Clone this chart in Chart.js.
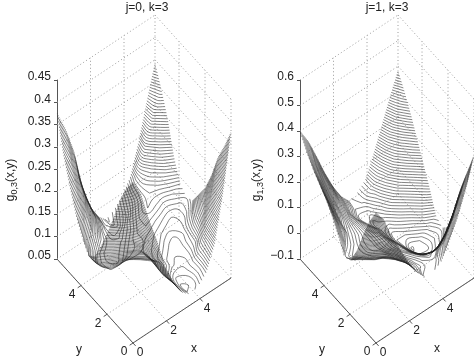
<!DOCTYPE html>
<html><head><meta charset="utf-8">
<style>html,body{margin:0;padding:0;background:#fff}</style>
<script src="https://cdn.jsdelivr.net/npm/chart.js@4"></script></head>
<body><div style="position:absolute;left:0;top:0;width:237px;height:359px"><canvas id="c0"></canvas></div>
<div style="position:absolute;left:237px;top:0;width:237px;height:359px"><canvas id="c1"></canvas></div>
<script>
const xTicks=[0,2,4];
const yTicks=[0,2,4];
const gridStep=0.4875;
const zTicks03=[0.05,0.1,0.15,0.2,0.25,0.3,0.35,0.4,0.45];
const zTicks13=[-0.1,0,0.1,0.2,0.3,0.4,0.5,0.6];
const g03=[
[.41,.37,.30,.24,.17,.125,.09,.075,.08,.10,.15,.25,.376],
[.38,.34,.28,.22,.16,.12,.09,.07,.075,.095,.14,.23,.33],
[.34,.30,.25,.20,.15,.115,.09,.075,.08,.095,.13,.20,.29],
[.285,.25,.21,.175,.15,.125,.105,.09,.085,.09,.11,.165,.235],
[.235,.20,.17,.145,.125,.115,.105,.095,.09,.09,.105,.145,.19],
[.19,.155,.13,.12,.115,.115,.11,.105,.095,.09,.10,.125,.16],
[.15,.115,.095,.095,.105,.11,.115,.11,.105,.10,.10,.11,.13],
[.135,.105,.095,.09,.095,.105,.115,.12,.115,.11,.105,.11,.12],
[.16,.125,.10,.09,.09,.095,.105,.12,.13,.125,.12,.125,.135],
[.195,.16,.13,.105,.09,.085,.095,.11,.125,.135,.14,.155,.18],
[.245,.21,.165,.125,.095,.08,.08,.095,.115,.14,.16,.20,.25],
[.30,.265,.215,.155,.11,.08,.07,.085,.105,.14,.20,.26,.30],
[.376,.33,.27,.18,.12,.085,.065,.075,.095,.125,.19,.27,.345]];
const g13=[
[.41,.36,.27,.20,.13,.07,.03,.03,.05,.11,.18,.27,.38],
[.35,.30,.22,.16,.11,.07,.045,.03,.03,.07,.13,.21,.29],
[.27,.22,.16,.12,.085,.06,.04,.025,.015,.025,.06,.12,.20],
[.18,.14,.10,.085,.07,.05,.03,.015,-.005,-.02,-.02,.02,.09],
[.115,.095,.08,.07,.06,.04,.02,0,-.03,-.055,-.065,-.05,-.01],
[.10,.08,.075,.06,.05,.03,.01,-.01,-.045,-.08,-.08,-.06,-.04],
[.16,.10,.08,.06,.05,.03,.01,-.02,-.055,-.085,-.075,-.05,-.02],
[.21,.14,.09,.07,.05,.03,.005,-.03,-.06,-.06,-.035,.01,.06],
[.25,.17,.105,.075,.05,.025,0,-.03,-.05,-.02,.02,.07,.13],
[.28,.20,.13,.085,.05,.02,-.01,-.035,-.015,.03,.08,.14,.20],
[.31,.24,.165,.10,.06,.015,-.02,-.02,.015,.07,.14,.20,.27],
[.35,.285,.21,.14,.075,.03,-.005,.005,.04,.10,.18,.26,.33],
[.40,.34,.26,.175,.10,.04,0,.01,.04,.12,.21,.30,.385]];

const FONT='"Liberation Sans", Arial, sans-serif';
const XMAX=gridStep*12, YMAX=gridStep*12;

function trace(grid,L){
  const n=grid.length, segs=[];
  for(let j=0;j<n-1;j++)for(let i=0;i<n-1;i++){
    const c=[[i,j],[i+1,j],[i+1,j+1],[i,j+1]];
    const v=c.map(p=>grid[p[1]][p[0]]);
    const cross=[];
    for(let e=0;e<4;e++){
      const a=v[e],b=v[(e+1)%4];
      if((a<L)!==(b<L)){
        const t=(L-a)/(b-a),p=c[e],q=c[(e+1)%4];
        const key=Math.min(p[0],q[0])+'_'+Math.min(p[1],q[1])+'_'+(p[0]===q[0]?'v':'h');
        cross.push({key,gx:p[0]+t*(q[0]-p[0]),gy:p[1]+t*(q[1]-p[1])});
      }
    }
    for(let k=0;k+1<cross.length;k+=2)segs.push([cross[k],cross[k+1]]);
  }
  const byKey={};
  segs.forEach((s,ix)=>s.forEach(e=>{(byKey[e.key]=byKey[e.key]||[]).push(ix);}));
  const used=segs.map(()=>false),out=[];
  const walk=(ix,startEnd)=>{
    const pts=[];let cur=ix,end=startEnd;
    while(true){
      used[cur]=true;
      const far=segs[cur][1-end];
      pts.push(far);
      const nb=(byKey[far.key]||[]).find(o=>!used[o]);
      if(nb===undefined)break;
      end=segs[nb][0].key===far.key?0:1;
      cur=nb;
    }
    return pts;
  };
  segs.forEach((s,ix)=>{
    if(used[ix])return;
    const fwd=walk(ix,0);
    const back=walk(ix,1);
    out.push(back.reverse().concat(fwd));
  });
  return out;
}

function makePanel(canvasId,cfg){
  const zMin=cfg.zTicks[0], zMax=cfg.zTicks[cfg.zTicks.length-1];
  const pxPerZ=179/(zMax-zMin);
  const P=(x,y,z)=>({
    x:(1-y/YMAX)*76+x/XMAX*98,
    y:z-((1-y/YMAX)*84-x/XMAX*65)/pxPerZ
  });
  const sets=[];
  for(let L=cfg.levelStart;L<cfg.levelEnd;L+=cfg.levelStep){
    const data=[];
    trace(cfg.grid,L).forEach(poly=>{
      poly.forEach(p=>data.push(P(p.gx*gridStep,p.gy*gridStep,L)));
      data.push({x:NaN,y:NaN});
    });
    sets.push({data,borderColor:'rgba(35,35,35,.8)',borderWidth:.7,pointRadius:0,clip:false,spanGaps:false,tension:.35,capBezierPoints:false,order:1});
  }
  const line=(a,b,style)=>sets.push(Object.assign({data:[a,b],pointRadius:0,clip:false,order:3},style));
  const dot={borderColor:'#9a9a9a',borderWidth:1,borderDash:[1,2.5]};
  const solid={borderColor:'#555',borderWidth:1,order:2};
  cfg.zTicks.forEach(z=>{
    line(P(0,YMAX,z),P(XMAX,YMAX,z),dot);
    line(P(XMAX,YMAX,z),P(XMAX,0,z),dot);
  });
  xTicks.forEach(x=>{
    if(x>0)line(P(x,YMAX,zMin),P(x,YMAX,zMax),dot);
    line(P(x,0,zMin),P(x,YMAX,zMin),dot);
  });
  yTicks.forEach(y=>{
    if(y>0)line(P(XMAX,y,zMin),P(XMAX,y,zMax),dot);
    line(P(0,y,zMin),P(XMAX,y,zMin),dot);
  });
  line(P(XMAX,YMAX,zMin),P(XMAX,YMAX,zMax),dot);
  line(P(XMAX,0,zMin),P(XMAX,0,zMax),dot);
  line(P(0,0,zMin),P(XMAX,0,zMin),solid);
  line(P(0,0,zMin),P(0,YMAX,zMin),solid);
  xTicks.forEach(x=>line(P(x,0,zMin),P(x,-.2,zMin),solid));
  yTicks.forEach(y=>line(P(0,y,zMin),P(-.2,y,zMin),solid));

  const textPlugin={id:'obliqueText',afterDraw(chart){
    const c=chart.ctx,sx=chart.scales.x,sy=chart.scales.y;
    const px=(p)=>[sx.getPixelForValue(p.x),sy.getPixelForValue(p.y)];
    c.save();c.fillStyle='#222';c.font='12px '+FONT;c.textAlign='center';c.textBaseline='middle';
    xTicks.forEach(x=>{const q=px(P(x,0,zMin));c.fillText(String(x),q[0]+7,q[1]+10);});
    yTicks.forEach(y=>{const q=px(P(0,y,zMin));c.fillText(String(y),q[0]-9,q[1]+9);});
    const qx=px(P(XMAX/2,0,zMin));c.fillText('x',qx[0]+12,qx[1]+38);
    const qy=px(P(0,YMAX/2,zMin));c.fillText('y',qy[0]-16,qy[1]+49);
    c.translate(cfg.labelX,180);c.rotate(-Math.PI/2);c.textAlign='left';
    const a='g',b=cfg.sub,d='(x,y)';
    c.font='12px '+FONT;const wa=c.measureText(a).width,wd=c.measureText(d).width;
    c.font='9px '+FONT;const wb=c.measureText(b).width;
    let s=-(wa+wb+wd)/2;
    c.font='12px '+FONT;c.fillText(a,s,0);s+=wa;
    c.font='9px '+FONT;c.fillText(b,s,4);s+=wb;
    c.font='12px '+FONT;c.fillText(d,s,0);
    c.restore();
  }};
  new Chart(document.getElementById(canvasId),{
    type:'line',
    data:{datasets:sets},
    plugins:[textPlugin],
    options:{
      responsive:true,maintainAspectRatio:false,animation:false,
      layout:{padding:{left:0,right:0,top:0,bottom:100}},
      plugins:{legend:{display:false},tooltip:{enabled:false},
        title:{display:true,text:cfg.title,fullSize:false,color:'#222',font:{family:FONT,size:12,weight:'normal'},padding:{top:0,bottom:65.6}}},
      scales:{
        x:{type:'linear',display:false,min:0,max:cfg.areaW},
        y:{type:'linear',min:zMin,max:zMax,
          afterFit:s=>{s.width=cfg.areaL;},
          afterBuildTicks:s=>{s.ticks=cfg.zTicks.map(v=>({value:v}));},
          border:{display:true,color:'#555',width:1},
          grid:{drawOnChartArea:false,drawTicks:true,tickLength:3,color:'#555'},
          ticks:{color:'#222',padding:3,labelOffset:-3,font:{family:FONT,size:12},
            callback:v=>{const t=String(+(+v).toFixed(2));return t.replace('-','\u2212');}}
        }
      }
    }
  });
}
makePanel('c0',{grid:g03,zTicks:zTicks03,title:'j=0, k=3',sub:'0,3',areaL:57,areaW:180,labelX:11,levelStart:.0675,levelEnd:.41,levelStep:.0052});
makePanel('c1',{grid:g13,zTicks:zTicks13,title:'j=1, k=3',sub:'1,3',areaL:63,areaW:174,labelX:20,levelStart:-.083,levelEnd:.41,levelStep:.0078});
</script></body></html>
